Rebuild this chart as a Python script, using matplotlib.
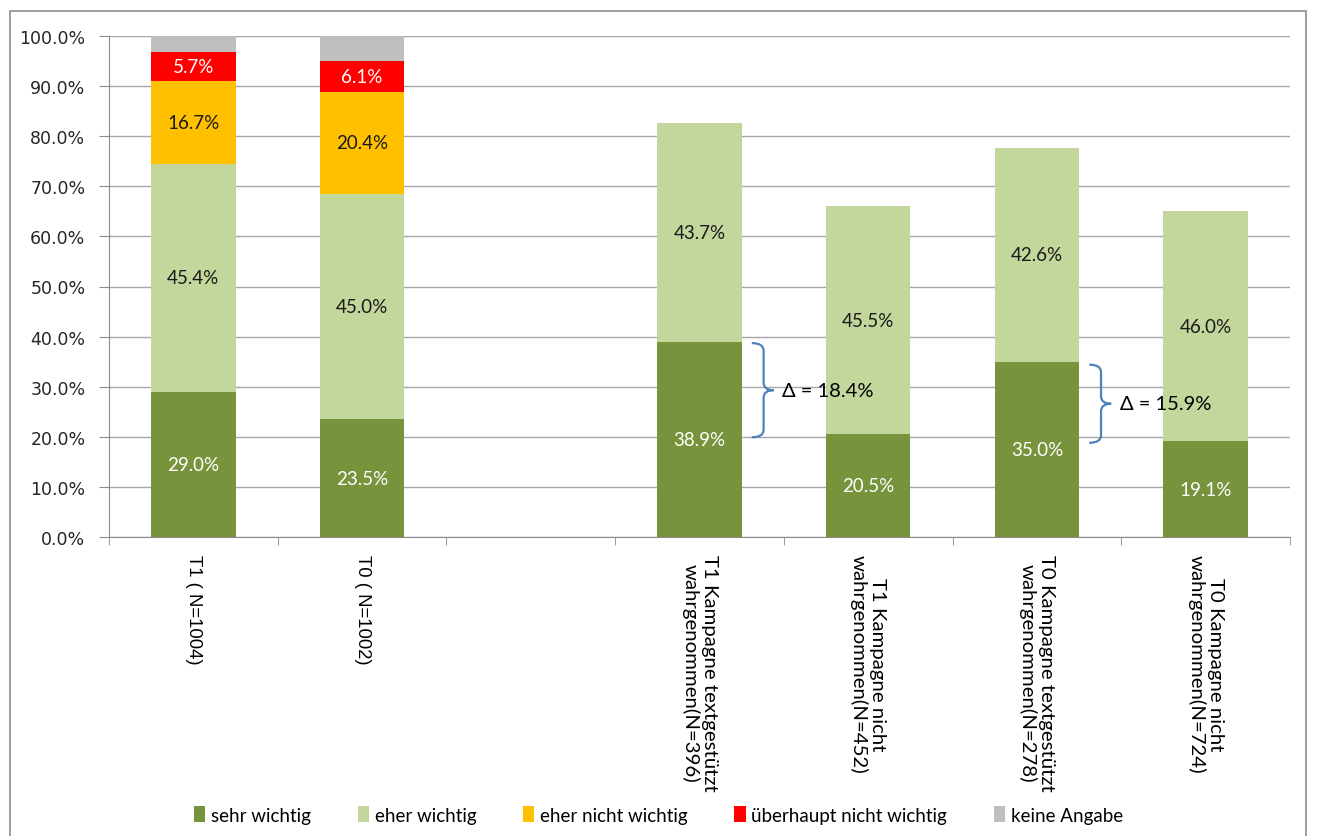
import numpy as np
import matplotlib.pyplot as plt
from matplotlib.patches import Rectangle
from matplotlib.path import Path
from matplotlib.patches import PathPatch

# Kategorien (leerer Eintrag = Lücke zwischen den Gruppen)
categories = ["T1 ( N=1004)", "T0 ( N=1002)", "",
              "T1 Kampagne textgestützt\nwahrgenommen(N=396)",
              "T1 Kampagne nicht\nwahrgenommen(N=452)",
              "T0 Kampagne textgestützt\nwahrgenommen(N=278)",
              "T0 Kampagne nicht\nwahrgenommen(N=724)"]

# Anteile in Prozent, je Balken (ohne Lücke)
sehr_wichtig = [29.0, 23.5, 38.9, 20.5, 35.0, 19.1]
eher_wichtig = [45.4, 45.0, 43.7, 45.5, 42.6, 46.0]
eher_nicht_wichtig = [16.7, 20.4, 0, 0, 0, 0]
ueberhaupt_nicht = [5.7, 6.1, 0, 0, 0, 0]
keine_angabe = [3.2, 5.0, 0, 0, 0, 0]

series_names = ["sehr wichtig", "eher wichtig", "eher nicht wichtig",
                "überhaupt nicht wichtig", "keine Angabe"]

# Differenzen (textgestützt vs. nicht wahrgenommen)
delta_labels = ["Δ = 18.4%", "Δ = 15.9%"]

colors = ["#77933C", "#C3D69B", "#FFC000", "#FF0000", "#BFBFBF"]
label_colors = ["white", "#1a1a1a", "#1a1a1a", "white", None]

label_font = "Lato"

fig = plt.figure(figsize=(13.17, 8.37), dpi=100)
fig.patches.append(Rectangle((10 / 1317, -0.01), 1296 / 1317, 1 - 12 / 837 + 0.01,
                             transform=fig.transFigure, fill=False,
                             edgecolor="#8c8c8c", linewidth=1.2))
ax = fig.add_axes([109 / 1317, 1 - 538 / 837, 1181 / 1317, 501 / 837])

positions = [i for i, c in enumerate(categories) if c != ""]
series = [sehr_wichtig, eher_wichtig, eher_nicht_wichtig, ueberhaupt_nicht, keine_angabe]

bottom = np.zeros(len(positions))
for vals, name, col, lcol in zip(series, series_names, colors, label_colors):
    vals = np.array(vals)
    ax.bar(positions, vals, 0.5, bottom=bottom, color=col, label=name, zorder=2)
    if lcol is not None:
        for x, v, b in zip(positions, vals, bottom):
            if v > 0:
                ax.text(x, b + v / 2, f"{v:.1f}%", ha="center", va="center",
                        color=lcol, fontsize=13.5, family=label_font, zorder=3)
    bottom += vals


def brace(ax, x0, y_low, y_high, text):
    # geschweifte Klammer rechts neben einem Balken
    xs = x0 + 0.07
    xt = x0 + 0.13
    ym = (y_low + y_high) / 2
    r = 1.5
    verts = [(x0, y_high), (xs, y_high), (xs, y_high - r),
             (xs, ym + r), (xs, ym), (xt, ym),
             (xs, ym), (xs, ym - r),
             (xs, y_low + r), (xs, y_low), (x0, y_low)]
    codes = [Path.MOVETO, Path.CURVE3, Path.CURVE3,
             Path.LINETO, Path.CURVE3, Path.CURVE3,
             Path.CURVE3, Path.CURVE3,
             Path.LINETO, Path.CURVE3, Path.CURVE3]
    ax.add_patch(PathPatch(Path(verts, codes), fill=False, edgecolor="#4F81BD",
                           linewidth=1.6, zorder=4, clip_on=False))
    ax.text(xt + 0.05, ym, text, ha="left", va="center", fontsize=14.5,
            family=label_font, color="black", zorder=5)


brace(ax, 3 + 0.31, sehr_wichtig[3] - 0.6, sehr_wichtig[2] - 0.2, delta_labels[0])
brace(ax, 5 + 0.31, sehr_wichtig[5] - 0.3, sehr_wichtig[4] - 0.6, delta_labels[1])

ax.set_xlim(-0.5, len(categories) - 0.5)
ax.set_ylim(0, 100)
ax.set_yticks(np.arange(0, 101, 10))
ax.set_yticklabels([f"{v:.1f}%" for v in range(0, 101, 10)], fontsize=12.5,
                   family="DejaVu Sans", color="#262626")
ax.yaxis.grid(True, color="#a6a6a6", linewidth=1, zorder=0)
ax.set_axisbelow(True)

ax.set_xticks(range(len(categories)))
ax.set_xticklabels([])
ax.set_xticks(np.arange(-0.5, len(categories), 1), minor=True)
ax.tick_params(axis="x", which="major", length=0)
ax.tick_params(axis="x", which="minor", length=6, color="#8c8c8c")
ax.tick_params(axis="y", length=7, color="#8c8c8c", pad=10)

for i, c in enumerate(categories):
    if c == "":
        continue
    if "Kampagne" in c:
        ax.text(i, -3.4, c, rotation=270, ha="center", va="top", multialignment="center",
                fontsize=14.7, family=label_font, color="black", linespacing=1.1)
    else:
        ax.text(i, -3.4, c, rotation=270, ha="center", va="top",
                fontsize=13.3, family="Liberation Sans", color="black")

for s in ["top", "right"]:
    ax.spines[s].set_visible(False)
for s in ["left", "bottom"]:
    ax.spines[s].set_color("#8c8c8c")

fig.legend(loc="center", bbox_to_anchor=(0.5, 1 - 816 / 837), ncol=5, frameon=False,
           prop={"family": label_font, "size": 13.5}, handlelength=0.6,
           handleheight=0.9, handletextpad=0.3, columnspacing=2.5)

fig.savefig("out.png", dpi=100)
